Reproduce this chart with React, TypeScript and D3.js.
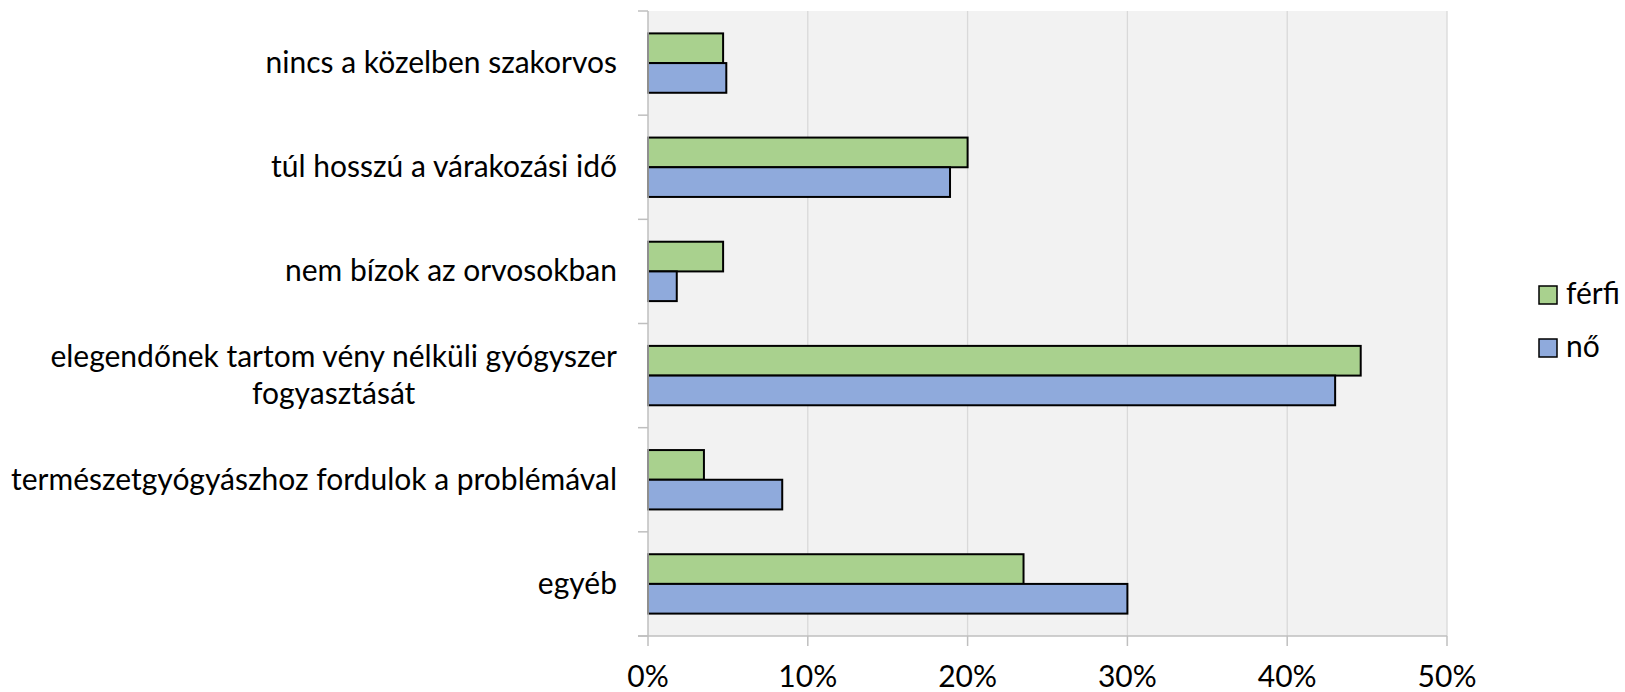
import React, { useRef, useEffect, useState } from "react";
import * as d3 from "d3";

const categories = [
  "nincs a közelben szakorvos",
  "túl hosszú a várakozási idő",
  "nem bízok az orvosokban",
  "elegendőnek tartom vény nélküli gyógyszer\nfogyasztását",
  "természetgyógyászhoz fordulok a problémával",
  "egyéb",
];

const ferfi = [4.7, 20.0, 4.7, 44.6, 3.5, 23.5];
const no = [4.9, 18.9, 1.8, 43.0, 8.4, 30.0];

const xTicks = [0, 10, 20, 30, 40, 50];

const series = [
  { name: "férfi", values: ferfi, color: "#A9D18E" },
  { name: "nő", values: no, color: "#8FAADC" },
];

const W = 1625;
const H = 692;
const FONT = "Lato, 'Open Sans', sans-serif";
const FS = 30;
const LABEL_RIGHT = 617;

const App: React.FC = () => {
  const x = d3.scaleLinear().domain([0, 50]).range([648, 1447]);
  const y = d3.scaleBand<string>().domain(categories).range([11, 636]);
  const bw = y.bandwidth();
  const barH = bw * 0.285;

  const left = x(0);
  const bottom = 636;

  // multi-line label: block is right-aligned, lines centred inside it
  const multiRef = useRef<SVGTextElement | null>(null);
  const [multiCx, setMultiCx] = useState(336);
  useEffect(() => {
    const el = multiRef.current;
    if (!el) return;
    let maxW = 0;
    el.querySelectorAll("tspan").forEach((t) => {
      maxW = Math.max(maxW, (t as SVGTextContentElement).getComputedTextLength());
    });
    setMultiCx(LABEL_RIGHT - maxW / 2);
  }, []);

  return (
    <div style={{ position: "absolute", left: 0, top: 0 }}>
      <svg width={W} height={H} style={{ display: "block", background: "#fff" }}>
        {/* plot background */}
        <rect x={left} y={11} width={x(50) - left} height={bottom - 11} fill="#F2F2F2" />

        {/* gridlines */}
        {xTicks.slice(1).map((t) => (
          <line key={t} x1={x(t)} x2={x(t)} y1={11} y2={bottom} stroke="#D9D9D9" strokeWidth={1.3} />
        ))}

        {/* bars */}
        {categories.map((c, i) => {
          const cy = (y(c) as number) + bw / 2;
          return (
            <g key={c}>
              {series.map((s, j) => (
                <rect
                  key={s.name}
                  x={left}
                  y={j === 0 ? cy - barH : cy}
                  width={x(s.values[i]) - left}
                  height={barH}
                  fill={s.color}
                  stroke="#000"
                  strokeWidth={2}
                />
              ))}
            </g>
          );
        })}

        {/* left axis */}
        <line x1={left} x2={left} y1={11} y2={bottom} stroke="#BFBFBF" strokeWidth={1.5} />
        {categories.map((c) => (
          <line key={c} x1={left - 10} x2={left} y1={y(c)} y2={y(c)} stroke="#BFBFBF" strokeWidth={1.5} />
        ))}
        <line x1={left - 10} x2={left} y1={bottom} y2={bottom} stroke="#BFBFBF" strokeWidth={1.5} />

        {/* bottom axis */}
        <line x1={left - 10} x2={x(50)} y1={bottom} y2={bottom} stroke="#BFBFBF" strokeWidth={1.5} />
        {xTicks.map((t) => (
          <g key={t}>
            <line x1={x(t)} x2={x(t)} y1={bottom} y2={bottom + 10} stroke="#BFBFBF" strokeWidth={1.5} />
            <text x={x(t)} y={687} textAnchor="middle" fontFamily={FONT} fontSize={FS} fill="#000">
              {t}%
            </text>
          </g>
        ))}

        {/* category labels */}
        {categories.map((c) => {
          const cy = (y(c) as number) + bw / 2;
          const lines = c.split("\n");
          const lh = 37;
          const first = cy - ((lines.length - 1) * lh) / 2 + 10;
          if (lines.length === 1) {
            return (
              <text key={c} x={LABEL_RIGHT} y={cy + 10} textAnchor="end" fontFamily={FONT} fontSize={FS} fill="#000">
                {c}
              </text>
            );
          }
          return (
            <text key={c} ref={multiRef} textAnchor="middle" fontFamily={FONT} fontSize={FS} fill="#000">
              {lines.map((l, k) => (
                <tspan key={k} x={multiCx} y={first + k * lh}>
                  {l}
                </tspan>
              ))}
            </text>
          );
        })}

        {/* legend */}
        {series.map((s, j) => (
          <g key={s.name} transform={`translate(1539, ${286 + j * 53})`}>
            <rect x={0} y={0} width={18} height={18} fill={s.color} stroke="#000" strokeWidth={1.5} />
            <text x={27} y={18} fontFamily={FONT} fontSize={FS} fill="#000">
              {s.name}
            </text>
          </g>
        ))}
      </svg>
    </div>
  );
};

export default App;
